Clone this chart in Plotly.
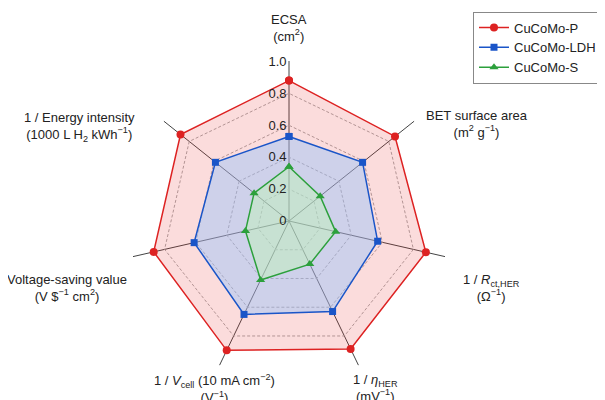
import plotly.graph_objects as go

# ---- data ----
axis_keys = ["ECSA", "BET", "Rct", "eta", "Vcell", "Vsave", "Energy"]
series_names = ["CuCoMo-P", "CuCoMo-LDH", "CuCoMo-S"]
p_values = [0.88, 0.85, 0.88, 0.89, 0.90, 0.87, 0.87]
ldh_values = [0.53, 0.59, 0.57, 0.63, 0.65, 0.61, 0.59]
s_values = [0.34, 0.25, 0.30, 0.30, 0.41, 0.28, 0.28]
radial_tickvals = [0, 0.2, 0.4, 0.6, 0.8, 1.0]
radial_ticktext = ["0", "0.2", "0.4", "0.6", "0.8", "1.0"]
axis_label_texts = [
    "ECSA<br>(cm<sup>2</sup>)",
    "BET surface area<br>(m<sup>2</sup> g<sup>−1</sup>)",
    "1 / <i>R</i><sub>ct,HER</sub><br>(Ω<sup>−1</sup>)",
    "1 / <i>η</i><sub>HER</sub><br>(mV<sup>−1</sup>)",
    "1 / <i>V</i><sub>cell</sub> (10 mA cm<sup>−2</sup>)<br>(V<sup>−1</sup>)",
    "Voltage-saving value<br>(V $<sup>−1</sup> cm<sup>2</sup>)",
    "1 / Energy intensity<br>(1000 L H<sub>2</sub> kWh<sup>−1</sup>)",
]

# ---- styles / layout ----
OX, OY = 8, 8            # page body margin
W, H = 605, 400
colors = ["#dd2222", "#1a55c8", "#2ca03c"]
fills = ["rgba(232,40,40,0.16)", "rgba(150,195,250,0.45)", "rgba(190,250,175,0.40)"]
symbols = ["circle", "square", "triangle-up"]
msizes = [8, 7, 8]
label_pos = [(289, 28), (477, 124), (491, 288), (376, 388), (214, 388), (67, 288), (79, 127)]

cx, cy, R = 289, 221, 160
font = "Liberation Sans, Arial, sans-serif"


def fx(x):
    return (x - OX) / W


def fy(y):
    return 1 - (y - OY) / H


fig = go.Figure()
all_vals = [p_values, ldh_values, s_values]
theta = axis_keys + axis_keys[:1]
for vals, c, f in zip(all_vals, colors, fills):
    fig.add_trace(go.Scatterpolar(r=vals + vals[:1], theta=theta, mode="none",
                                  fill="toself", fillcolor=f, showlegend=False,
                                  hoverinfo="skip"))
for name, vals, c, s, ms in zip(series_names, all_vals, colors, symbols, msizes):
    fig.add_trace(go.Scatterpolar(r=vals + vals[:1], theta=theta, mode="lines+markers",
                                  name=name, line=dict(color=c, width=1.5),
                                  marker=dict(symbol=s, size=ms, color=c)))

for txt, (x, y) in zip(axis_label_texts, label_pos):
    fig.add_annotation(text=txt, x=fx(x), y=fy(y), xref="paper", yref="paper",
                       showarrow=False, xanchor="center", yanchor="middle",
                       font=dict(size=13, color="#222", family=font))

fig.update_layout(
    width=W, height=H,
    margin=dict(l=0, r=0, t=0, b=0),
    paper_bgcolor="white",
    font=dict(family=font, size=13, color="#222"),
    polar=dict(
        domain=dict(x=[fx(cx - R), fx(cx + R)], y=[fy(cy + R), fy(cy - R)]),
        bgcolor="white",
        gridshape="linear",
        radialaxis=dict(range=[0, 1.003], tickvals=radial_tickvals, ticktext=radial_ticktext,
                        angle=90, tickangle=90, side="counterclockwise", showline=False,
                        ticks="", gridcolor="#aaaaaa", gridwidth=0.8, griddash="3px,2px",
                        tickfont=dict(size=13, color="#222")),
        angularaxis=dict(direction="clockwise", rotation=90, showticklabels=False,
                         ticks="", showline=False, gridcolor="#444444", gridwidth=0.8),
    ),
    legend=dict(x=fx(602), y=fy(11.5), xanchor="right", yanchor="top",
                bordercolor="#888888", borderwidth=1, bgcolor="white",
                font=dict(size=13, color="#222"), itemwidth=30, tracegroupgap=0),
)

fig.write_html("out.html")
